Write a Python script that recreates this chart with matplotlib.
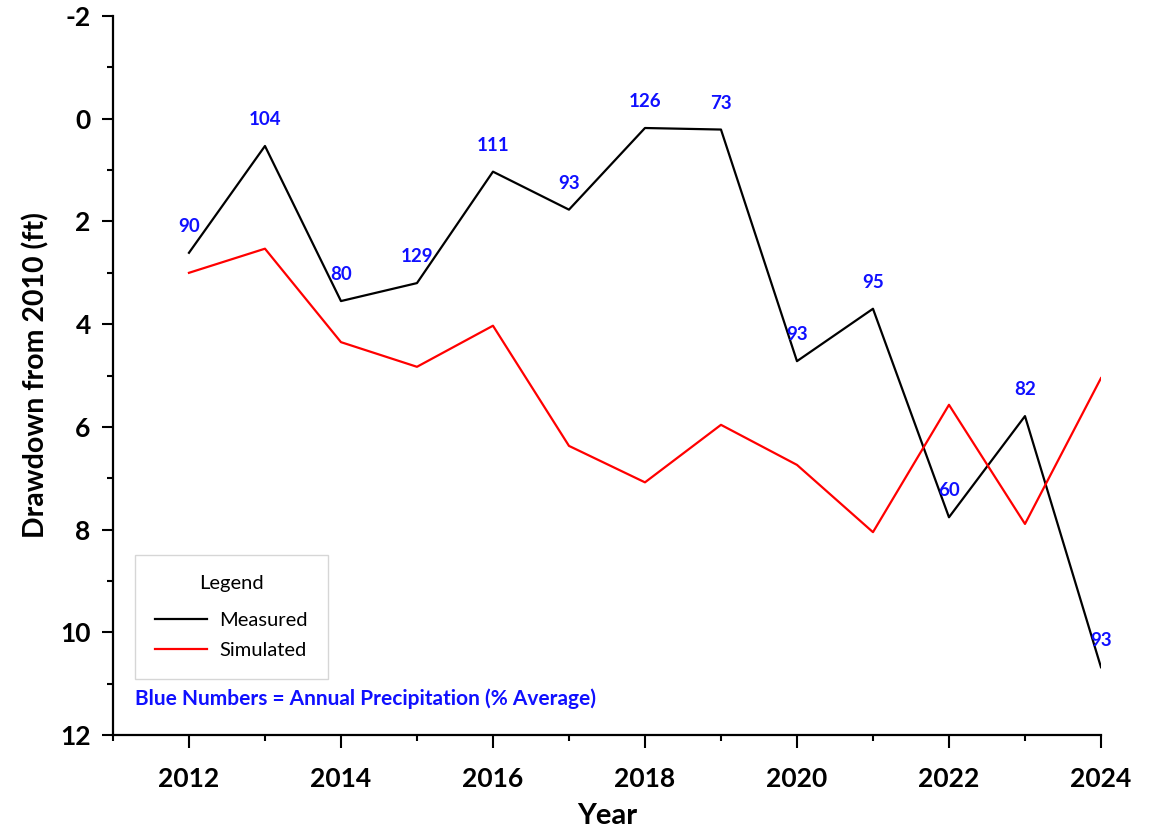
import numpy as np
import matplotlib
matplotlib.use("Agg")
import matplotlib.pyplot as plt
from matplotlib.ticker import MultipleLocator

# data
years = [2012, 2013, 2014, 2015, 2016, 2017, 2018, 2019, 2020, 2021, 2022, 2023, 2024]
measured = [2.61, 0.53, 3.55, 3.20, 1.03, 1.77, 0.18, 0.21, 4.72, 3.70, 7.76, 5.79, 10.68]
simulated = [3.00, 2.53, 4.35, 4.83, 4.03, 6.37, 7.08, 5.96, 6.74, 8.05, 5.57, 7.89, 5.05]
precip = [90, 104, 80, 129, 111, 93, 126, 73, 93, 95, 60, 82, 93]

plt.rcParams['font.family'] = ['Lato', 'DejaVu Sans']
plt.rcParams['axes.unicode_minus'] = False

BLUE = '#1010ff'

fig = plt.figure(figsize=(11.61, 8.36), dpi=100)
ax = fig.add_axes([0.0973, 0.1208, 0.851, 0.860])

ax.plot(years, measured, color='black', lw=1.6, label="Measured")
ax.plot(years, simulated, color='#ff0000', lw=1.6, label="Simulated")

for x, y, p in zip(years, measured, precip):
    ax.annotate(str(p), (x, y), xytext=(0, 19), textcoords='offset points',
                ha='center', va='center', color=BLUE, fontsize=13.5, fontweight='bold')

ax.set_xlim(2011, 2024)
ax.set_ylim(12, -2)
ax.xaxis.set_major_locator(MultipleLocator(2))
ax.xaxis.set_minor_locator(MultipleLocator(1))
ax.yaxis.set_major_locator(MultipleLocator(2))
ax.yaxis.set_minor_locator(MultipleLocator(1))

for s in ['top', 'right']:
    ax.spines[s].set_visible(False)
for s in ['left', 'bottom']:
    ax.spines[s].set_linewidth(1.6)

ax.tick_params(which='major', direction='out', length=9, width=1.5, labelsize=19, pad=14)
ax.tick_params(which='minor', direction='out', length=4.5, width=1.5)
ax.tick_params(axis='y', which='major', length=8, pad=8)
for lab in ax.get_xticklabels() + ax.get_yticklabels():
    lab.set_fontweight('bold')

ax.set_xlabel("Year", fontsize=21, fontweight='bold', labelpad=9)
ax.set_ylabel("Drawdown from 2010 (ft)", fontsize=20.5, fontweight='bold', labelpad=8)

leg = ax.legend(title="Legend", loc='lower left', bbox_to_anchor=(0.022, 0.078),
                borderaxespad=0, fontsize=14.5, title_fontsize=14.5, frameon=True,
                fancybox=False, edgecolor='#cccccc', handlelength=2.6,
                handletextpad=0.6, borderpad=1.0, labelspacing=0.65)
leg.get_frame().set_linewidth(1.0)
leg._legend_box.sep = 14

ax.text(0.022, 0.051, "Blue Numbers = Annual Precipitation (% Average)",
        transform=ax.transAxes, color=BLUE, fontsize=15, fontweight='bold',
        ha='left', va='center')

fig.savefig("out.png", dpi=100)
